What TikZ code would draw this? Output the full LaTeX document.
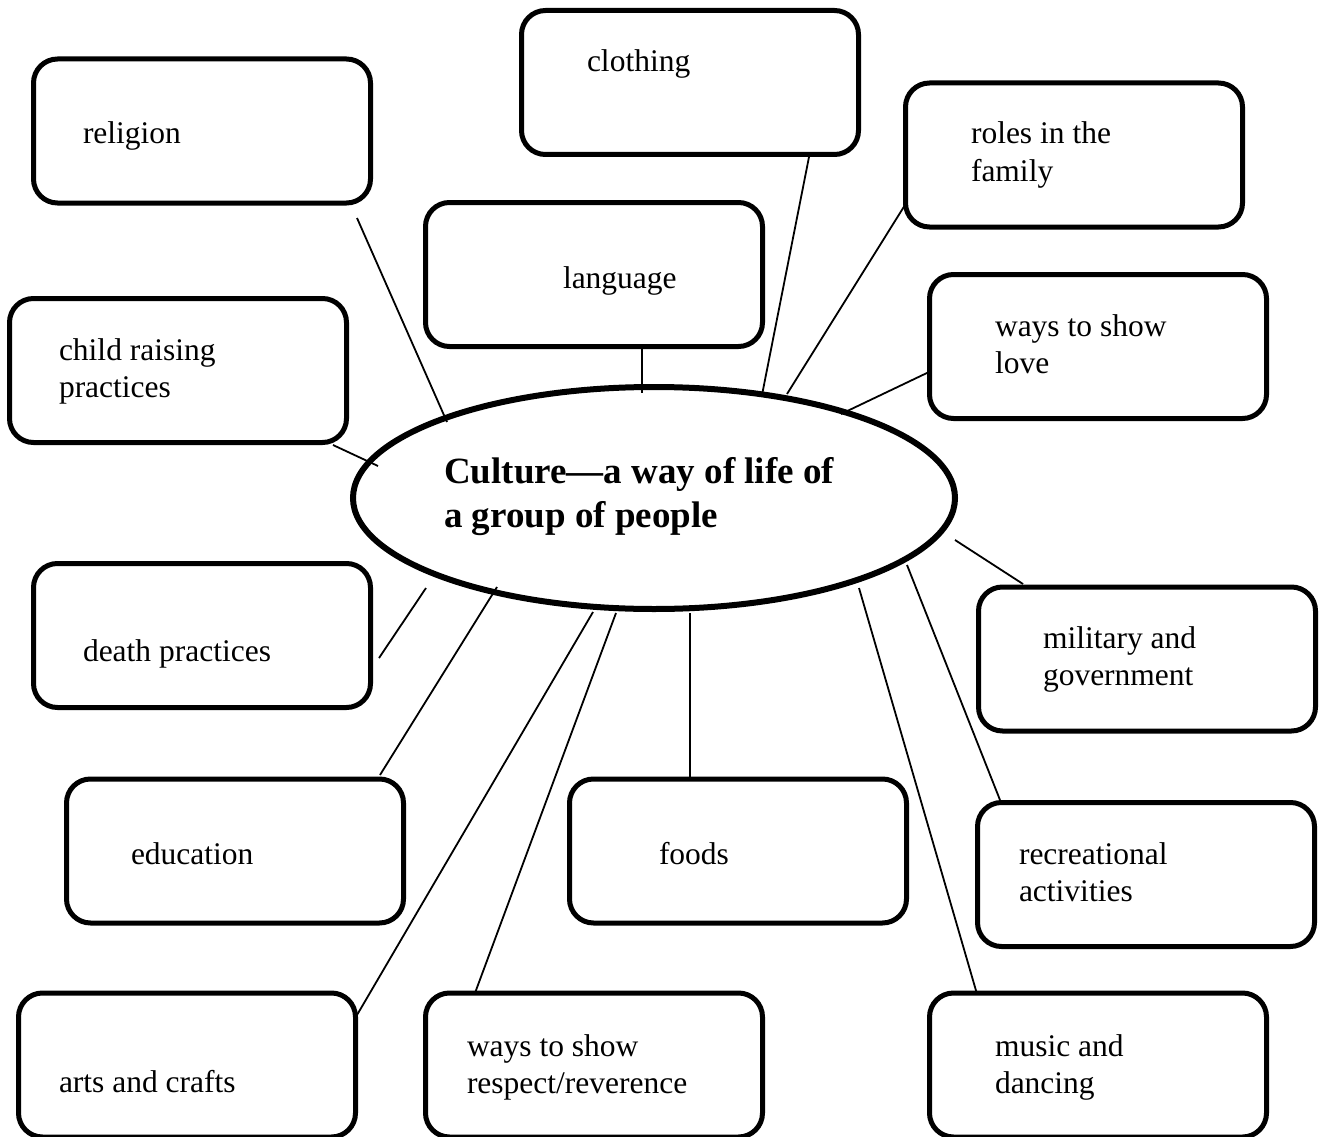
\documentclass[tikz,border=0pt]{standalone}
\usepackage{fontspec}
\setmainfont{Liberation Serif}
\usetikzlibrary{shapes.geometric}
\begin{document}
\begin{tikzpicture}[x=1pt,y=-1pt,
  box/.style={draw=black,line width=5pt,rounded corners=24pt,minimum width=337pt,minimum height=144pt,inner sep=0pt,outer sep=0pt},
  lbl/.style={anchor=base west,inner sep=0pt,outer sep=0pt,align=left,font=\fontsize{31.5}{37}\selectfont},
  link/.style={draw=black,line width=1.8pt}]
\useasboundingbox (0,0) rectangle (1320,1137);
% boxes
\node[box] (religion) at (202,131) {};
\node[box] (clothing) at (690,82.5) {};
\node[box] (roles) at (1074,155) {};
\node[box] (language) at (594,274.5) {};
\node[box] (child) at (178,370.5) {};
\node[box] (love) at (1098,346.5) {};
\node[box] (death) at (202,635.5) {};
\node[box] (military) at (1147,659) {};
\node[box] (education) at (235,851) {};
\node[box] (foods) at (738,851) {};
\node[box] (recreation) at (1146,874.5) {};
\node[box] (arts) at (187,1065) {};
\node[box] (respect) at (594,1065) {};
\node[box] (music) at (1098,1065) {};
% centre ellipse
\node[draw=black,line width=6pt,ellipse,minimum width=602pt,minimum height=222pt,inner sep=0pt] (culture) at (654,498) {};
% texts (base anchor = baseline of the last line)
\node[lbl] (t-religion) at (83,144) {religion};
\node[lbl] (t-clothing) at (587,72) {clothing};
\node[lbl] (t-roles) at (971,181) {roles in the\\family};
\node[lbl] (t-language) at (563,288) {language};
\node[lbl] (t-child) at (59,397) {child raising\\practices};
\node[lbl] (t-love) at (995,373) {ways to show\\love};
\node[lbl] (t-death) at (83,661) {death practices};
\node[lbl] (t-military) at (1043,685) {military and\\government};
\node[lbl] (t-education) at (131,864) {education};
\node[lbl] (t-foods) at (659,864) {foods};
\node[lbl] (t-recreation) at (1019,901) {recreational\\activities};
\node[lbl] (t-arts) at (59,1092) {arts and crafts};
\node[lbl] (t-respect) at (467,1093) {ways to show\\respect/reverence};
\node[lbl] (t-music) at (995,1093) {music and\\dancing};
\node[anchor=base west,inner sep=0pt,align=left,font=\fontsize{37}{44}\selectfont\bfseries] (t-culture) at (444,527) {Culture—a way of life of\\a group of people};
% connector end points
\coordinate (r1) at (357,218); \coordinate (r2) at (447,422);
\coordinate (c1) at (809,157); \coordinate (c2) at (762,395);
\coordinate (f1) at (905,205); \coordinate (f2) at (787,394);
\coordinate (l1) at (642,348); \coordinate (l2) at (642,393);
\coordinate (v1) at (929,372); \coordinate (v2) at (841,414);
\coordinate (h1) at (333,445); \coordinate (h2) at (378,466);
\coordinate (m1) at (955,540); \coordinate (m2) at (1023,584);
\coordinate (d1) at (426,588); \coordinate (d2) at (379,658);
\coordinate (e1) at (497,587); \coordinate (e2) at (380,775);
\coordinate (a1) at (593,612); \coordinate (a2) at (357,1015);
\coordinate (s1) at (616,613); \coordinate (s2) at (475,993);
\coordinate (o1) at (690,613); \coordinate (o2) at (690,777);
\coordinate (u1) at (859,588); \coordinate (u2) at (977,994);
\coordinate (g1) at (907,565); \coordinate (g2) at (1000,800);
\draw[link] (r1) -- (r2);
\draw[link] (c1) -- (c2);
\draw[link] (f1) -- (f2);
\draw[link] (l1) -- (l2);
\draw[link] (v1) -- (v2);
\draw[link] (h1) -- (h2);
\draw[link] (m1) -- (m2);
\draw[link] (d1) -- (d2);
\draw[link] (e1) -- (e2);
\draw[link] (a1) -- (a2);
\draw[link] (s1) -- (s2);
\draw[link] (o1) -- (o2);
\draw[link] (u1) -- (u2);
\draw[link] (g1) -- (g2);
\end{tikzpicture}
\end{document}
